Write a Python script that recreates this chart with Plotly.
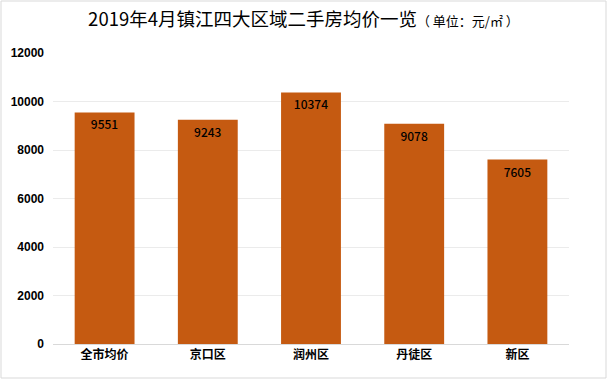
import plotly.graph_objects as go

categories = ["全市均价", "京口区", "润州区", "丹徒区", "新区"]
prices = [9551, 9243, 10374, 9078, 7605]
y_ticks = [0, 2000, 4000, 6000, 8000, 10000, 12000]
y_tick_labels = ["0", "2000", "4000", "6000", "8000", "10000", "12000"]

W, H = 607, 379
ml, mr, mt, mb = 53, 38, 53, 35
pw, ph = W - ml - mr, H - mt - mb

fig = go.Figure(go.Bar(
    x=categories, y=prices,
    marker=dict(color="#C55A11", line=dict(width=0)),
    text=[str(v) for v in prices], textposition="inside", insidetextanchor="end",
    textfont=dict(family="Noto Sans CJK SC, sans-serif", size=12, color="#000000", weight=500),
    textangle=0, cliponaxis=False,
))

fig.update_layout(
    width=W, height=H,
    margin=dict(l=ml, r=mr, t=mt, b=mb, autoexpand=False),
    paper_bgcolor="white", plot_bgcolor="white",
    bargap=0.42,
    showlegend=False,
    title=dict(
        text="2019年4月镇江四大区域二手房均价一览<span style='font-size:13px'>（ 单位：元/㎡ ）</span>",
        x=0.5, xanchor="center", y=1 - 20 / H, yanchor="middle",
        font=dict(family="Noto Sans CJK SC, sans-serif", size=18.5, color="#000000"),
    ),
    xaxis=dict(
        automargin=False,
        showline=True, linecolor="#D9D9D9", linewidth=1,
        ticks="", tickfont=dict(family="Noto Sans CJK SC, sans-serif", size=12, color="#000000", weight="bold"),
    ),
    yaxis=dict(
        automargin=False,
        range=[0, 12000], tickvals=y_ticks, ticktext=y_tick_labels,
        showgrid=True, gridcolor="#EBEBEB", gridwidth=1,
        zeroline=False, ticks="", ticklabelstandoff=8,
        tickfont=dict(family="Liberation Sans, Arial, sans-serif", size=12, color="#000000", weight="bold"),
    ),
    font=dict(family="Noto Sans CJK SC, sans-serif"),
)

fig.add_shape(type="rect", xref="paper", yref="paper",
              x0=-(ml - 1) / pw, x1=1 + (mr - 1) / pw,
              y0=-(mb - 1) / ph, y1=1 + (mt - 1) / ph,
              line=dict(color="#D9D9D9", width=1), fillcolor="rgba(0,0,0,0)")

fig.write_html("out.html", config={"displayModeBar": False},
               post_script="document.body.style.margin='0';")
